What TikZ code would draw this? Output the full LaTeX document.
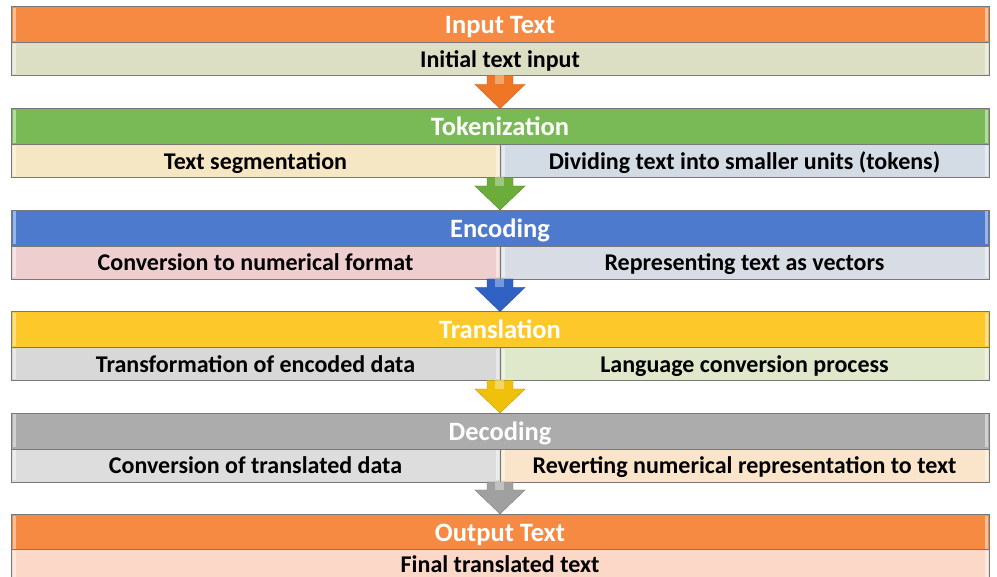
\documentclass[tikz,border=0pt]{standalone}
\usepackage{fontspec}
\setmainfont{Carlito}
\usetikzlibrary{calc}
\definecolor{hOrange}{RGB}{247,138,66}
\definecolor{hGreen}{RGB}{122,186,86}
\definecolor{hBlue}{RGB}{78,122,206}
\definecolor{hYellow}{RGB}{253,201,42}
\definecolor{hGray}{RGB}{172,172,172}
\definecolor{aOrange}{RGB}{238,118,36}
\definecolor{aGreen}{RGB}{108,172,58}
\definecolor{aBlue}{RGB}{48,98,196}
\definecolor{aYellow}{RGB}{240,193,10}
\definecolor{aGray}{RGB}{160,160,160}
\definecolor{sInput}{RGB}{221,223,197}
\definecolor{sTokL}{RGB}{245,230,196}
\definecolor{sTokR}{RGB}{211,219,229}
\definecolor{sEncL}{RGB}{238,206,206}
\definecolor{sEncR}{RGB}{216,221,229}
\definecolor{sTraL}{RGB}{216,216,216}
\definecolor{sTraR}{RGB}{223,232,202}
\definecolor{sDecL}{RGB}{221,221,221}
\definecolor{sDecR}{RGB}{250,229,202}
\definecolor{sOut}{RGB}{252,216,200}
\definecolor{edge}{RGB}{120,120,120}
\tikzset{
  header/.style={draw=edge, line width=0.8pt, fill=#1, anchor=north west,
    minimum width=978pt, minimum height=36pt, inner sep=0pt, outer sep=0pt,
    text height=21pt, text depth=2pt,
    text=white, font=\fontsize{26.5}{26.5}\selectfont\bfseries},
  subfull/.style={draw=edge, line width=0.8pt, fill=#1, anchor=north west,
    minimum width=978pt, minimum height=33pt, inner sep=0pt, outer sep=0pt,
    text height=19pt, text depth=2pt,
    font=\fontsize{24}{24}\selectfont\bfseries},
  subhalf/.style={draw=edge, line width=0.8pt, fill=#1, anchor=north west,
    minimum width=489pt, minimum height=33pt, inner sep=0pt, outer sep=0pt,
    text height=19pt, text depth=2pt,
    font=\fontsize{24}{24}\selectfont\bfseries},
  shine/.style={fill=white, fill opacity=0.45, draw=none},
}
\newcommand{\blockarrow}[3]{% top node, bottom node, colour
  \path let \p1=(#1), \p2=(#2) in
    [fill=#3, draw=#3!80!black, line width=0.4pt]
    (\x1-13pt,\y1) -- (\x1+13pt,\y1) -- (\x1+13pt,\y2+24pt) -- (\x1+25pt,\y2+24pt)
    -- (\x1,\y2) -- (\x1-25pt,\y2+24pt) -- (\x1-13pt,\y2+24pt) -- cycle;
  \path let \p1=(#1), \p2=(#2) in
    [fill=white, fill opacity=0.35]
    (\x1-5pt,\y1) rectangle (\x1+4pt,\y2+24pt);
}
\begin{document}
\begin{tikzpicture}[x=1pt,y=-1pt]
\path[use as bounding box, clip] (0,0) rectangle (997,577);
\fill[white] (0,0) rectangle (997,577);
% Row 1
\node[header=hOrange] (h1) at (11,6.5) {Input Text};
\node[subfull=sInput] (s1) at (11,42.5) {Initial text input};
% Row 2
\node[header=hGreen] (h2) at (11,108.5) {Tokenization};
\node[subhalf=sTokL] (s2l) at (11,144.5) {Text segmentation};
\node[subhalf=sTokR] (s2r) at (500,144.5) {Dividing text into smaller units (tokens)};
% Row 3
\node[header=hBlue] (h3) at (11,210) {Encoding};
\node[subhalf=sEncL] (s3l) at (11,246) {Conversion to numerical format};
\node[subhalf=sEncR] (s3r) at (500,246) {Representing text as vectors};
% Row 4
\node[header=hYellow] (h4) at (11,311.5) {Translation};
\node[subhalf=sTraL] (s4l) at (11,347.5) {Transformation of encoded data};
\node[subhalf=sTraR] (s4r) at (500,347.5) {Language conversion process};
% Row 5
\node[header=hGray] (h5) at (11,413) {Decoding};
\node[subhalf=sDecL] (s5l) at (11,449) {Conversion of translated data};
\node[subhalf=sDecR] (s5r) at (500,449) {Reverting numerical representation to text};
% Row 6
\node[header=hOrange] (h6) at (11,514) {Output Text};
\node[subfull=sOut, text height=16pt, text depth=3pt] (s6) at (11,549.5) {Final translated text};
% bevel highlights
\foreach \n in {h1,h2,h3,h4,h5,h6,s1,s6,s2l,s3l,s4l,s5l,s2r,s3r,s4r,s5r}{
  \path[shine] ($(\n.north west)+(1.5,1.5)$) rectangle ($(\n.south west)+(4.5,-1.5)$);
  \path[shine] ($(\n.north east)+(-4.5,1.5)$) rectangle ($(\n.south east)+(-1.5,-1.5)$);
}
% arrows
\blockarrow{s1.south}{h2.north}{aOrange}
\blockarrow{s2l.south east}{h3.north}{aGreen}
\blockarrow{s3l.south east}{h4.north}{aBlue}
\blockarrow{s4l.south east}{h5.north}{aYellow}
\blockarrow{s5l.south east}{h6.north}{aGray}
\end{tikzpicture}
\end{document}
